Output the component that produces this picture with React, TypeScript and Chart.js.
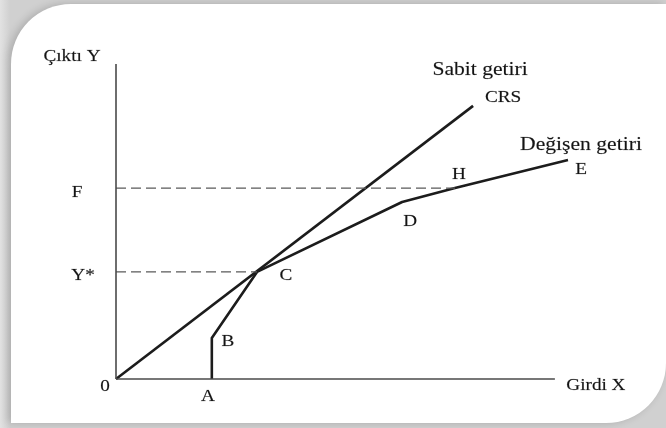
import React, { useEffect, useRef } from "react";
import { Chart, registerables } from "chart.js";

Chart.register(...registerables);

// ---- data ----
const pointNames = ["A", "B", "C", "D", "H", "E"];
const vrsX = [21.2, 21.2, 31.2, 63.3, 75, 100];
const vrsY = [0, 13, 34, 56.2, 60.6, 69.5];
const crsX = [0, 79];
const crsY = [0, 86.7];
const levelNames = ["Y*", "F"];
const levelValues = [34, 60.6];
const levelEndX = [31.2, 75];
const xAxisEnd = 97.1;
const yAxisEnd = 100;
const xAxisTitle = "Girdi X";
const yAxisTitle = "Çıktı Y";
const originLabel = "0";
const crsTitle = ["Sabit getiri", "CRS"];
const vrsTitle = "Değişen getiri";

// ---- layout (pixel offsets of the text from its anchor) ----
const pointLabelOffsets: Record<string, [number, number]> = {
  A: [-4, 18],
  B: [16, 4],
  C: [29, 4],
  D: [8, 20],
  H: [4, -13],
  E: [13, 10],
};
const levelLabelOffsets: [number, number][] = [
  [-33, 4],
  [-39, 5],
];

const FONT = "'Liberation Serif', 'Times New Roman', serif";
const TEXT_COLOR = "#141414";
const STRETCH = 1.2;

const labelsPlugin = {
  id: "econLabels",
  afterDatasetsDraw(chart: any) {
    const { ctx } = chart;
    const xs = chart.scales.x;
    const ys = chart.scales.y;
    const put = (text: string, px: number, py: number, size: number) => {
      ctx.save();
      ctx.font = `${size}px ${FONT}`;
      ctx.fillStyle = TEXT_COLOR;
      ctx.strokeStyle = "rgba(20,20,20,0.35)";
      ctx.lineWidth = 0.4;
      ctx.textAlign = "center";
      ctx.textBaseline = "middle";
      ctx.translate(px, py);
      ctx.scale(STRETCH, 1);
      ctx.fillText(text, 0, 0);
      ctx.strokeText(text, 0, 0);
      ctx.restore();
    };
    // point labels
    pointNames.forEach((n, i) => {
      const [dx, dy] = pointLabelOffsets[n] || [0, 0];
      put(n, xs.getPixelForValue(vrsX[i]) + dx, ys.getPixelForValue(vrsY[i]) + dy, 16);
    });
    // level labels on the y axis
    levelNames.forEach((n, i) => {
      const [dx, dy] = levelLabelOffsets[i];
      put(n, xs.getPixelForValue(0) + dx, ys.getPixelForValue(levelValues[i]) + dy, 16);
    });
    // origin
    put(originLabel, xs.getPixelForValue(0) - 11, ys.getPixelForValue(0) + 8, 16);
    // axis titles
    put(yAxisTitle, xs.getPixelForValue(0) - 44, ys.getPixelForValue(yAxisEnd) - 7, 16);
    put(xAxisTitle, xs.getPixelForValue(xAxisEnd) + 41, ys.getPixelForValue(0) + 7, 16);
    // curve titles
    const ce = crsX.length - 1;
    const cx = xs.getPixelForValue(crsX[ce]);
    const cy = ys.getPixelForValue(crsY[ce]);
    put(crsTitle[0], cx + 7, cy - 36, 18);
    put(crsTitle[1], cx + 30, cy - 8, 16);
    const ve = vrsX.length - 1;
    put(vrsTitle, xs.getPixelForValue(vrsX[ve]) + 13, ys.getPixelForValue(vrsY[ve]) - 15, 18);
  },
};

export default function App() {
  const ref = useRef<HTMLCanvasElement | null>(null);

  useEffect(() => {
    if (!ref.current) return;
    const pts = (xs: number[], ys: number[]) => xs.map((x, i) => ({ x, y: ys[i] }));
    const axisStyle = {
      borderColor: "#4a4a4a",
      borderWidth: 1.6,
      pointRadius: 0,
      fill: false,
      clip: false as any,
    };
    const dashStyle = {
      borderColor: "#5a5a5a",
      borderWidth: 1.4,
      borderDash: [10, 5],
      pointRadius: 0,
      fill: false,
      clip: false as any,
    };
    const curveStyle = {
      borderColor: "#1c1c1c",
      borderWidth: 2.6,
      pointRadius: 0,
      fill: false,
      tension: 0,
      clip: false as any,
      borderJoinStyle: "round" as const,
    };
    const chart = new Chart(ref.current, {
      type: "scatter",
      data: {
        datasets: [
          { ...axisStyle, showLine: true, data: [{ x: 0, y: 0 }, { x: 0, y: yAxisEnd }] },
          { ...axisStyle, showLine: true, data: [{ x: 0, y: 0 }, { x: xAxisEnd, y: 0 }] },
          ...levelValues.map((v, i) => ({
            ...dashStyle,
            showLine: true,
            data: [{ x: 0, y: v }, { x: levelEndX[i], y: v }],
          })),
          { ...curveStyle, showLine: true, data: pts(crsX, crsY) },
          { ...curveStyle, showLine: true, data: pts(vrsX, vrsY) },
        ],
      },
      options: {
        animation: false,
        responsive: false,
        devicePixelRatio: 1,
        layout: { padding: { left: 116, right: 98, top: 64, bottom: 49 } },
        scales: {
          x: { type: "linear", min: 0, max: 100, display: false },
          y: { type: "linear", min: 0, max: 100, display: false },
        },
        plugins: { legend: { display: false }, tooltip: { enabled: false } },
        events: [],
      },
      plugins: [labelsPlugin],
    });
    return () => chart.destroy();
  }, []);

  return (
    <div
      style={{
        position: "fixed",
        left: 0,
        top: 0,
        width: 666,
        height: 428,
        overflow: "hidden",
        background: "linear-gradient(90deg, #e2e2e2 0px, #d0d0d0 10px, #d0d0d0 100%)",
      }}
    >
      <div
        style={{
          position: "absolute",
          left: 11,
          top: 4,
          right: 0,
          bottom: 5,
          background: "#ffffff",
          borderRadius: "60px 0 60px 0",
          boxShadow: "-3px 0px 8px rgba(0,0,0,0.18)",
        }}
      />
      <canvas
        ref={ref}
        width={666}
        height={428}
        style={{ position: "absolute", left: 0, top: 0, width: 666, height: 428 }}
      />
    </div>
  );
}
